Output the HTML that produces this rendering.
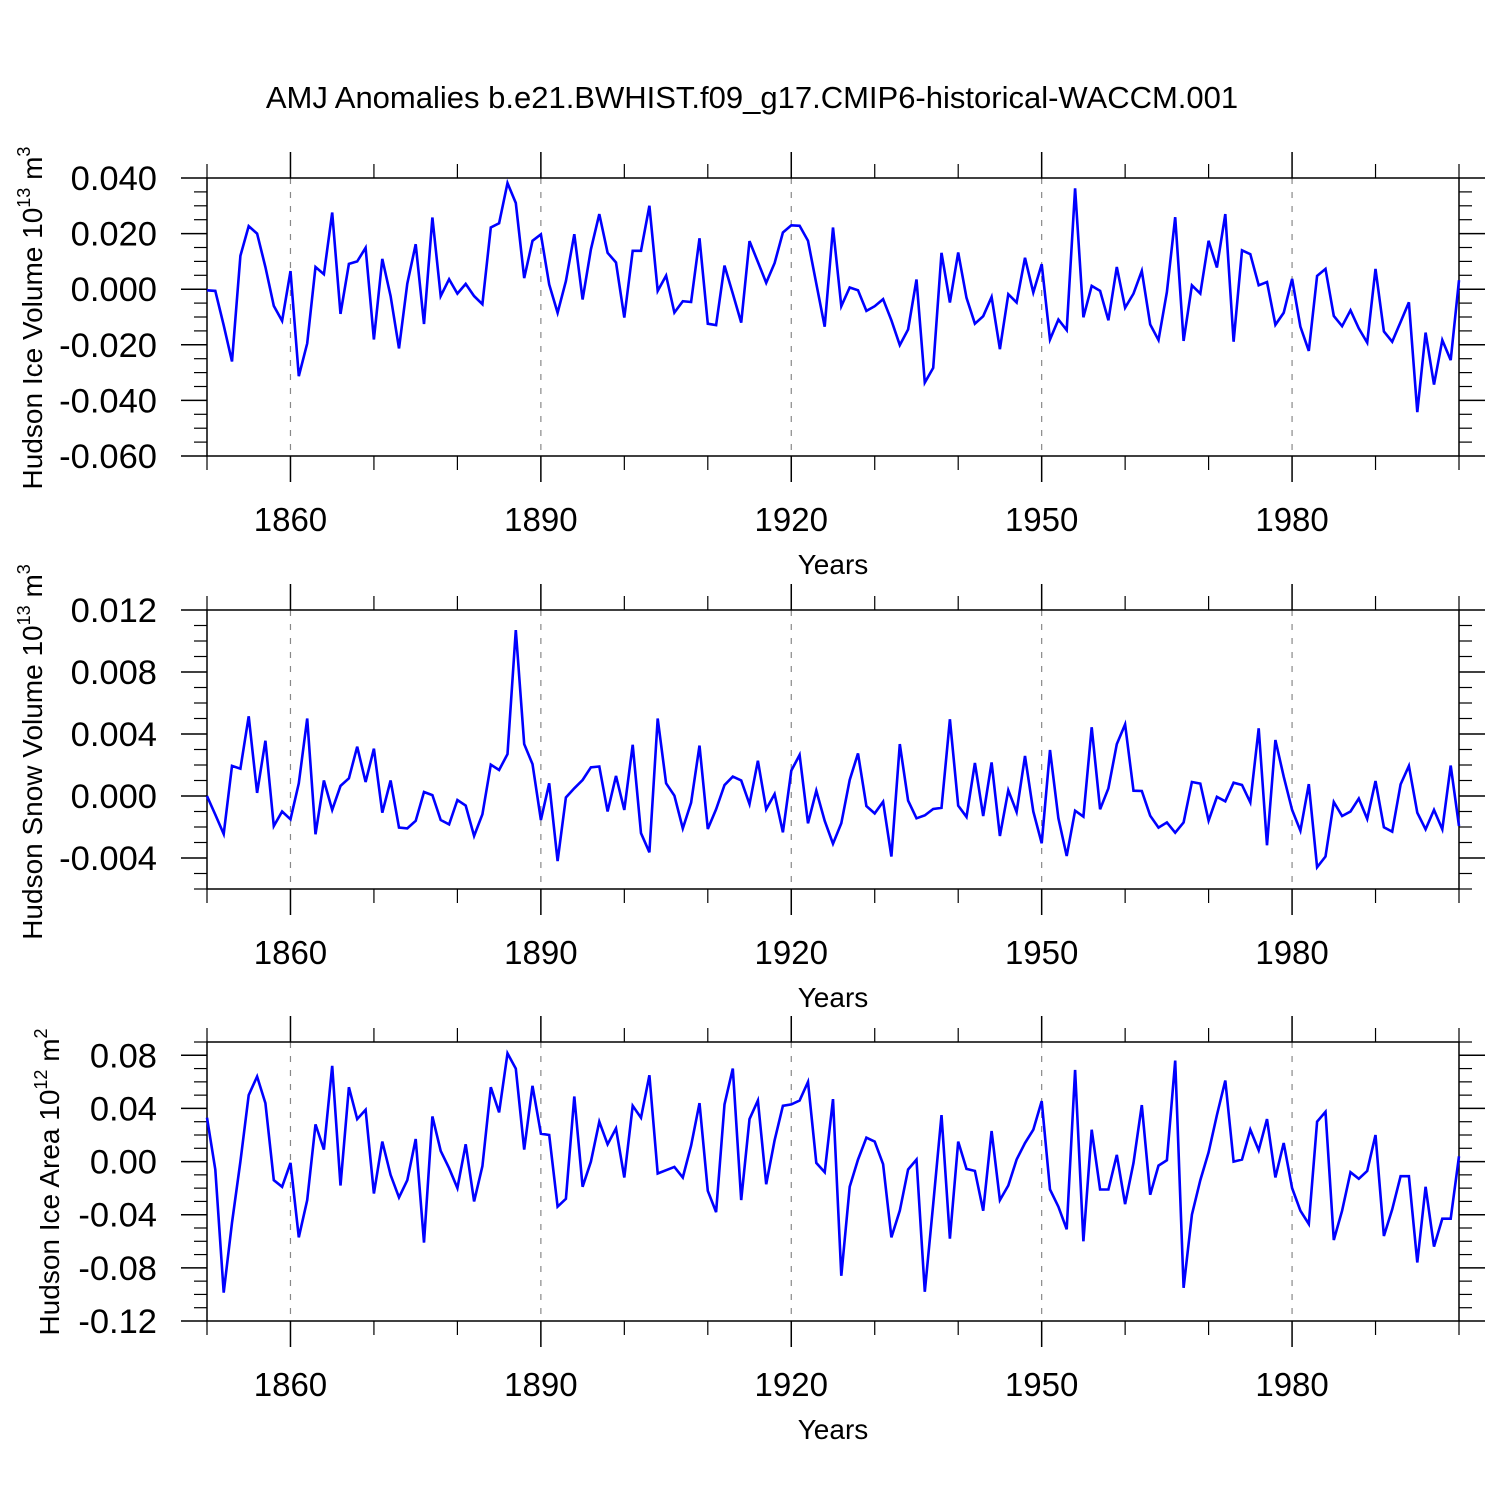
<!DOCTYPE html>
<html><head><meta charset="utf-8"><title>AMJ Anomalies</title>
<style>html,body{margin:0;padding:0;background:#fff}svg{display:block}text{font-family:"Liberation Sans",Arial,sans-serif;fill:#000}</style>
</head><body>
<svg id="chart" width="1500" height="1500" viewBox="0 0 1500 1500" xmlns="http://www.w3.org/2000/svg">
<text x="752" y="108" font-size="31" text-anchor="middle">AMJ Anomalies b.e21.BWHIST.f09_g17.CMIP6-historical-WACCM.001</text>
</svg>
<script>
const startYear = 1850;
const iceVolume = [-0.4,-0.6,-13,-26,12,22.7,20,8,-6,-11.4,6.5,-31.3,-19.5,8,5.4,27.6,-8.9,9.1,10,14.9,-18.1,10.9,-2.5,-21.3,2,16.2,-12.5,25.8,-2.5,3.6,-1.6,1.9,-2.5,-5.4,22.2,23.7,38.2,31,4,17.4,19.7,1.7,-8.5,2.9,19.8,-3.7,14.3,27,13.1,9.6,-10.2,13.8,13.8,30,-0.6,4.9,-8.4,-4.3,-4.6,18.3,-12.4,-12.9,8.5,-1.6,-12,17.3,9.8,2.3,9.4,20.4,23,22.8,17.4,2,-13.5,22.2,-6.1,0.6,-0.4,-7.8,-6.1,-3.6,-11.2,-20.1,-14.5,3.5,-33.6,-28.3,13.1,-4.8,13.2,-3.1,-12.4,-9.7,-2.8,-21.6,-1.8,-4.8,11.3,-1.2,9,-18.1,-10.9,-14.7,36.3,-10.1,1.2,-0.6,-11.2,8,-6.7,-1.6,6.6,-12.7,-18.3,-1,25.9,-18.6,1.4,-1.6,17.4,7.8,27,-18.9,14,12.6,1.4,2.6,-12.8,-8.5,3.7,-13.5,-22.2,4.8,7.3,-9.6,-13.3,-7.6,-14.1,-19.2,7.3,-15.2,-18.9,-11.8,-4.7,-44.2,-15.6,-34.3,-18.3,-25.5,3.2].map(v=>v/1000);
const snowVolume = [0,-1.2,-2.45,1.94,1.76,5.14,0.2,3.57,-1.94,-1.0,-1.5,0.82,5.0,-2.47,1.0,-0.9,0.65,1.14,3.18,0.9,3.05,-1.08,1.0,-2.04,-2.09,-1.6,0.26,0.06,-1.55,-1.83,-0.26,-0.62,-2.58,-1.18,2.02,1.68,2.7,10.7,3.35,2.06,-1.55,0.82,-4.2,-0.1,0.5,1.03,1.85,1.9,-1.0,1.3,-0.9,3.3,-2.4,-3.63,5.0,0.82,0.02,-2.1,-0.43,3.25,-2.13,-0.86,0.7,1.25,1.0,-0.52,2.28,-0.86,0.13,-2.34,1.63,2.65,-1.76,0.34,-1.6,-3.08,-1.76,1.03,2.75,-0.65,-1.12,-0.37,-3.9,3.35,-0.3,-1.44,-1.25,-0.84,-0.77,4.95,-0.62,-1.35,2.13,-1.29,2.17,-2.58,0.37,-1.03,2.58,-1.0,-3.05,2.97,-1.44,-3.87,-0.95,-1.33,4.43,-0.86,0.5,3.35,4.62,0.34,0.32,-1.27,-2.04,-1.7,-2.37,-1.7,0.9,0.8,-1.59,-0.06,-0.34,0.86,0.71,-0.41,4.37,-3.18,3.61,1.25,-0.9,-2.24,0.77,-4.6,-3.9,-0.39,-1.29,-1.0,-0.17,-1.48,0.97,-2.02,-2.3,0.75,1.94,-1.08,-2.15,-0.9,-2.15,1.96,-1.94].map(v=>v/1000);
const iceArea = [3.3,-0.6,-9.86,-4.6,0,5.0,6.4,4.4,-1.4,-1.9,-0.1,-5.7,-2.9,2.8,0.9,7.2,-1.8,5.6,3.2,3.9,-2.4,1.5,-1.0,-2.7,-1.4,1.7,-6.1,3.4,0.8,-0.5,-2.0,1.3,-3.0,-0.35,5.6,3.7,8.15,7.0,0.9,5.7,2.1,2.0,-3.4,-2.8,4.9,-1.9,0,3.0,1.3,2.5,-1.2,4.2,3.3,6.5,-0.9,-0.65,-0.4,-1.2,1.2,4.4,-2.2,-3.8,4.3,7.0,-2.9,3.2,4.6,-1.7,1.6,4.2,4.3,4.6,6.0,-0.1,-0.8,4.7,-8.6,-1.9,0.15,1.8,1.5,-0.2,-5.7,-3.7,-0.6,0.15,-9.8,-3.2,3.5,-5.8,1.5,-0.55,-0.7,-3.7,2.3,-2.9,-1.8,0.15,1.4,2.4,4.55,-2.1,-3.4,-5.1,6.9,-6.0,2.4,-2.1,-2.1,0.5,-3.2,-0.1,4.25,-2.5,-0.3,0.1,7.6,-9.5,-4.0,-1.4,0.7,3.5,6.1,0,0.15,2.4,0.85,3.2,-1.2,1.4,-2.0,-3.7,-4.7,3.0,3.75,-5.9,-3.7,-0.8,-1.3,-0.7,2.0,-5.6,-3.6,-1.1,-1.1,-7.6,-1.9,-6.4,-4.3,-4.3,0.4].map(v=>v/100);
const xMajorTicks = [1860,1890,1920,1950,1980];
const xMinorTicks = [1850,1870,1880,1900,1910,1930,1940,1960,1970,1990,2000];
const ticks1 = ["0.040","0.020","0.000","-0.020","-0.040","-0.060"];
const ticks2 = ["0.012","0.008","0.004","0.000","-0.004"];
const ticks3 = ["0.08","0.04","0.00","-0.04","-0.08","-0.12"];

const NS="http://www.w3.org/2000/svg";
const svg=document.getElementById('chart');
const X0=207,X1=1459,Y0=startYear,Y1=2000;
function xs(yr){return X0+(yr-Y0)/(Y1-Y0)*(X1-X0);}
function mk(tag,attrs,parent){const e=document.createElementNS(NS,tag);for(const k in attrs)e.setAttribute(k,attrs[k]);(parent||svg).appendChild(e);return e;}

function panel(p){
  const g=mk('g',{});
  
  
  const ys=v=>p.top+(p.vmax-v)/(p.vmax-p.vmin)*(p.bot-p.top);
  xMajorTicks.forEach(yr=>{const l=mk('line',{x1:xs(yr),x2:xs(yr),y1:p.top,y2:p.bot,stroke:'#888','stroke-width':1.2,'stroke-dasharray':'6,8'},g);
    });
  const fr=mk('rect',{x:X0,y:p.top,width:X1-X0,height:p.bot-p.top,fill:'none',stroke:'#000','stroke-width':1.5},g);
  
  xMajorTicks.forEach(yr=>{const x=xs(yr);
    mk('line',{x1:x,x2:x,y1:p.top,y2:p.top-26,stroke:'#000','stroke-width':1.5},g);
    mk('line',{x1:x,x2:x,y1:p.bot,y2:p.bot+26,stroke:'#000','stroke-width':1.5},g);
    const t=mk('text',{x:x,y:p.bot+75,'font-size':33,'text-anchor':'middle'},g);t.textContent=yr;
    });
  xMinorTicks.forEach(yr=>{const x=xs(yr);
    mk('line',{x1:x,x2:x,y1:p.top,y2:p.top-14,stroke:'#000','stroke-width':1.2},g);
    mk('line',{x1:x,x2:x,y1:p.bot,y2:p.bot+14,stroke:'#000','stroke-width':1.2},g);});
  for(let v=p.vmin;v<=p.vmax+1e-9;v+=p.minor){
    const y=ys(v);const isMaj=Math.abs(Math.round((v-p.majorStart)/p.major)*p.major-(v-p.majorStart))<1e-9;
    const L=isMaj?26:13;
    mk('line',{x1:X0,x2:X0-L,y1:y,y2:y,stroke:'#000','stroke-width':isMaj?1.5:1.2},g);
    mk('line',{x1:X1,x2:X1+L,y1:y,y2:y,stroke:'#000','stroke-width':isMaj?1.5:1.2},g);
  }
  p.labels.forEach(s=>{const v=parseFloat(s);const t=mk('text',{x:157,y:ys(v)+12,'font-size':34.5,'text-anchor':'end'},g);t.textContent=s;
    });
  const pts=p.data.map((v,i)=>xs(startYear+i).toFixed(1)+','+ys(v).toFixed(1)).join(' ');
  const pl=mk('polyline',{points:pts,fill:'none',stroke:'#0000ff','stroke-width':2.6,'stroke-linejoin':'miter'},g);
  
  
  const xt=mk('text',{x:833,y:p.bot+118,'font-size':28,'text-anchor':'middle'},g);xt.textContent='Years';
  
  const yt=mk('text',{transform:`translate(${p.tx},${p.ty}) rotate(-90)`,'font-size':28,'text-anchor':'middle'},g);
  
  const a=mk('tspan',{},yt);a.textContent=p.title+' 10';
  const b=mk('tspan',{dy:-12,'font-size':18},yt);b.textContent=p.e1;
  const c=mk('tspan',{dy:12},yt);c.textContent=' m';
  const d=mk('tspan',{dy:-12,'font-size':18},yt);d.textContent=p.e2;
}
panel({name:'ice-volume-panel',top:178,bot:456,vmin:-0.06,vmax:0.04,minor:0.005,major:0.02,majorStart:-0.06,labels:ticks1,data:iceVolume,title:'Hudson Ice Volume',e1:'13',e2:'3',tx:42,ty:318});
panel({name:'snow-volume-panel',top:610,bot:889,vmin:-0.006,vmax:0.012,minor:0.001,major:0.004,majorStart:-0.004,labels:ticks2,data:snowVolume,title:'Hudson Snow Volume',e1:'13',e2:'3',tx:42,ty:752});
panel({name:'ice-area-panel',top:1042,bot:1321,vmin:-0.12,vmax:0.09,minor:0.01,major:0.04,majorStart:-0.12,labels:ticks3,data:iceArea,title:'Hudson Ice Area',e1:'12',e2:'2',tx:59,ty:1182});
</script>
</body></html>
